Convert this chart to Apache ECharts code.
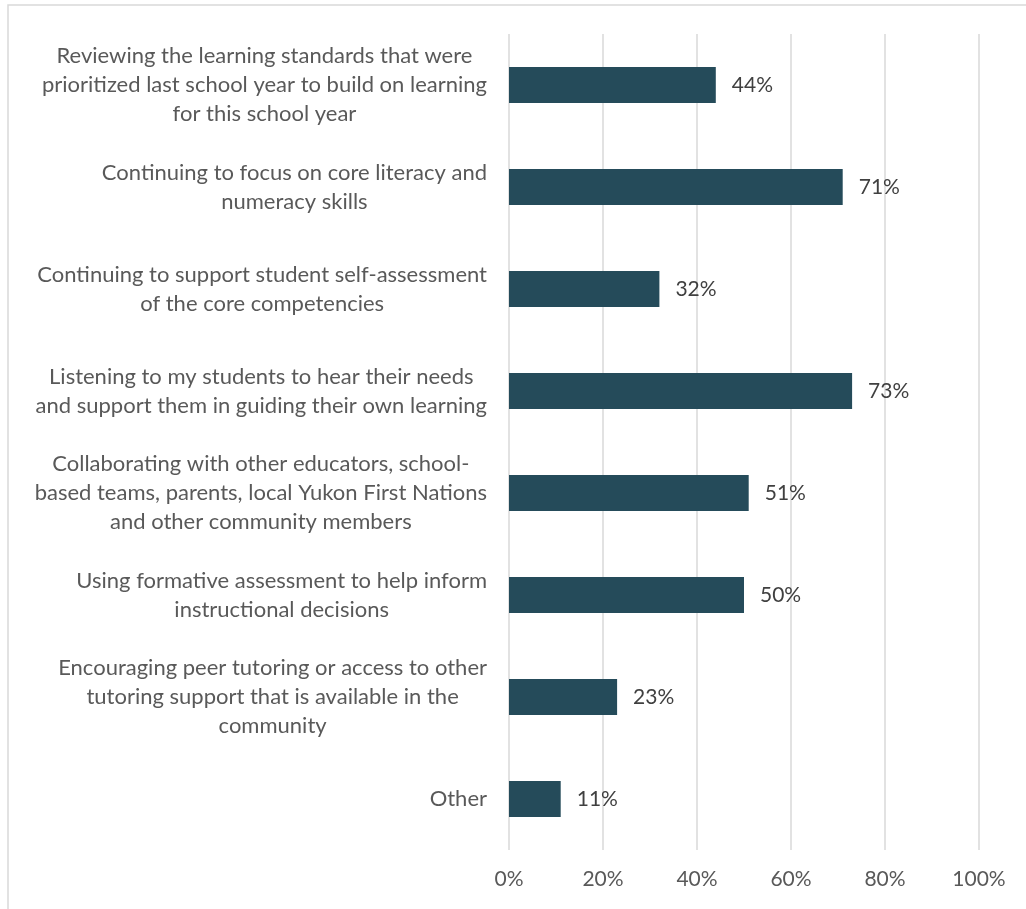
<!DOCTYPE html>
<html><head><meta charset="utf-8">
<script src="https://cdn.jsdelivr.net/npm/echarts@6/dist/echarts.min.js"></script>
<style>html,body{margin:0;padding:0;background:#fff}#c{width:1026px;height:909px}</style>
</head><body><div id="c"></div>
<script>
const categories = [
  "Reviewing the learning standards that were\nprioritized last school year to build on learning\nfor this school year",
  "Continuing to focus on core literacy and\nnumeracy skills",
  "Continuing to support student self-assessment\nof the core competencies",
  "Listening to my students to hear their needs\nand support them in guiding their own learning",
  "Collaborating with other educators, school-\nbased teams, parents, local Yukon First Nations\nand other community members",
  "Using formative assessment to help inform\ninstructional decisions",
  "Encouraging peer tutoring or access to other\ntutoring support that is available in the\ncommunity",
  "Other"
];
const values = [44, 71, 32, 73, 51, 50, 23, 11];
const xTicks = [0, 20, 40, 60, 80, 100];

const chart = echarts.init(document.getElementById('c'), null, {renderer: 'canvas'});
const FONT = 'Lato';
chart.setOption({
  animation: false,
  backgroundColor: '#fff',
  graphic: [{
    type: 'rect', shape: {x: 8, y: 5, width: 1030, height: 920},
    style: {fill: 'none', stroke: '#d9d9d9', lineWidth: 1.5}, z: -1
  }],
  grid: {left: 509, right: 47, top: 34, bottom: 59, containLabel: false},
  xAxis: {
    type: 'value', min: xTicks[0], max: xTicks[xTicks.length - 1], interval: 20,
    axisLine: {show: false}, axisTick: {show: false},
    splitLine: {lineStyle: {color: '#d9d9d9', width: 1.5}},
    axisLabel: {formatter: v => v + '%', color: '#595959', fontFamily: FONT, fontSize: 21, margin: 19}
  },
  yAxis: {
    type: 'category', data: categories, inverse: true,
    axisLine: {show: false}, axisTick: {show: false},
    axisLabel: {
      margin: 22, color: '#595959', fontFamily: FONT, fontSize: 22, lineHeight: 29,
      formatter: v => v.split('\n').map(l => '{c|' + l + '}').join('\n'),
      rich: {c: {align: 'center', color: '#595959', fontFamily: FONT, fontSize: 22, lineHeight: 29}}
    }
  },
  series: [{
    type: 'bar', data: values, barWidth: 36,
    itemStyle: {color: '#254B5A'},
    label: {show: true, position: 'right', distance: 16, formatter: p => p.value + '%',
      color: '#404040', fontFamily: FONT, fontSize: 21}
  }]
});
</script></body></html>
